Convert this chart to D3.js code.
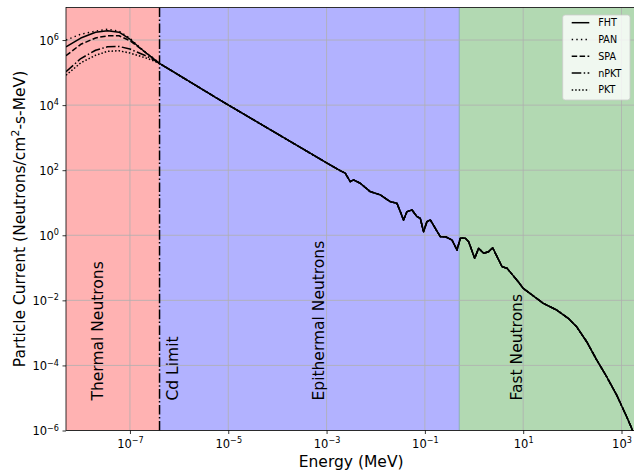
<!DOCTYPE html>
<html>
<head>
<meta charset="utf-8">
<script src="https://cdn.jsdelivr.net/npm/d3@7"></script>
<style>
  body { margin: 0; background: #fff; }
  svg { display: block; font-family: "DejaVu Sans", sans-serif; }
</style>
</head>
<body>
<svg id="chart" width="634" height="472"></svg>
<script>
// ---- data -------------------------------------------------------------
// Thermal peak (MeV) – the facilities differ here
const thermalEnergy = [5e-9, 1e-8, 2e-8, 3.5e-8, 6e-8, 1e-7, 1.5e-7, 2.2e-7, 3e-7];
const thermalFHT  = [6.2e5, 1.15e6, 1.73e6, 1.93e6, 1.74e6, 1.06e6, 6.2e5, 3.85e5, 2.7e5];
const thermalPAN  = [1.0e6, 1.51e6, 1.88e6, 2.15e6, 1.88e6, 1.14e6, 6.4e5, 3.95e5, 2.79e5];
const thermalSPA  = [3.3e5, 7.4e5, 1.16e6, 1.35e6, 1.35e6, 9.5e5, 6.0e5, 3.85e5, 2.7e5];
const thermalNPKT = [1.06e5, 2.7e5, 4.85e5, 6.2e5, 6.35e5, 5.3e5, 4.06e5, 3.18e5, 2.51e5];
const thermalPKT  = [8.3e4, 2.0e5, 3.4e5, 4.49e5, 4.69e5, 3.98e5, 3.29e5, 2.75e5, 2.31e5];

// Epithermal and fast part of the spectrum (MeV, neutrons/cm²-s-MeV)
const tailEnergy = [4.08e-7, 6.8e-6, 1.18e-3, 1.89e-3, 2.39e-3, 3.03e-3, 3.53e-3, 4.83e-3,
  7.72e-3, 1.24e-2, 1.97e-2, 2.7e-2, 3.16e-2, 3.68e-2, 4.32e-2, 5.46e-2, 6.9e-2, 8.05e-2,
  9.4e-2, 0.110, 0.129, 0.163, 0.206, 0.260, 0.356, 0.451, 0.526, 0.665, 0.777, 1.03, 1.24,
  1.57, 1.98, 2.39, 2.94, 3.72, 4.70, 5.9, 7.94, 10.0, 13.7, 25.6, 48.0, 82.6, 122, 196,
  313, 499, 798, 1274, 1610, 2000];
const tailCurrent = [1.87e5, 1.43e4, 145, 97.2, 80.9, 44.6, 50.3, 39.8,
  22.0, 17.4, 10.8, 9.66, 5.33, 2.96, 5.33, 6.0, 3.73, 3.33,
  1.29, 2.62, 2.96, 1.64, 0.906, 0.906, 0.716, 0.353, 0.809, 0.809, 0.636, 0.196, 0.398,
  0.279, 0.313, 0.415, 0.22, 0.108, 0.0966, 0.064, 0.0373, 0.0234, 0.0164, 8.1e-3, 5.04e-3, 2.8e-3, 1.55e-3, 5.35e-4,
  1.47e-4, 4.49e-5, 1.23e-5, 2.65e-6, 1.17e-6, 5e-7];

const seriesNames = ["FHT", "PAN", "SPA", "nPKT", "PKT"];
const thermalValues = [thermalFHT, thermalPAN, thermalSPA, thermalNPKT, thermalPKT];

// Region boundaries (MeV)
const cdLimit = 4e-7;
const fastLimit = 0.5;
const xLimits = [5e-9, 2e3];
const yLimits = [1e-6, 1e7];

const xTickValues = [1e-7, 1e-5, 1e-3, 1e-1, 1e1, 1e3];
const yTickValues = [1e-6, 1e-4, 1e-2, 1e0, 1e2, 1e4, 1e6];

// ---- styling per series ---------------------------------------------------
const seriesStyle = {
  FHT:  { dash: null,                width: 1.5 },
  PAN:  { dash: "1.4,3.2",           width: 1.4 },
  SPA:  { dash: "5.5,2.4",           width: 1.5 },
  nPKT: { dash: "9.6,2.4,1.5,2.4",   width: 1.5 },
  PKT:  { dash: "1.5,2.0",           width: 1.5 }
};

// ---- layout -------------------------------------------------------------
const plot = { left: 66, right: 636.3, top: 7.5, bottom: 430.5 };
const svg = d3.select("#chart");

const x = d3.scaleLog().domain(xLimits).range([plot.left, plot.right]);
const y = d3.scaleLog().domain(yLimits).range([plot.bottom, plot.top]);

svg.append("defs").append("clipPath").attr("id", "plotClip")
  .append("rect")
  .attr("x", plot.left).attr("y", plot.top)
  .attr("width", plot.right - plot.left).attr("height", plot.bottom - plot.top);

const area = svg.append("g").attr("clip-path", "url(#plotClip)");

// Shaded energy regions
const regions = [
  { from: xLimits[0], to: cdLimit, color: "#ff0000" },
  { from: cdLimit, to: fastLimit, color: "#0000ff" },
  { from: fastLimit, to: xLimits[1], color: "#008000" }
];
area.selectAll("rect.region").data(regions).join("rect")
  .attr("class", "region")
  .attr("x", d => x(d.from))
  .attr("y", plot.top)
  .attr("width", d => x(d.to) - x(d.from))
  .attr("height", plot.bottom - plot.top)
  .attr("fill", d => d.color)
  .attr("fill-opacity", 0.3);

// thin overlap seam between epithermal and fast shading
area.append("line")
  .attr("x1", x(fastLimit)).attr("x2", x(fastLimit))
  .attr("y1", plot.top).attr("y2", plot.bottom)
  .attr("stroke", "rgb(125,164,179)").attr("stroke-width", 0.8);

// Grid
const grid = area.append("g").attr("stroke", "#b0b0b0").attr("stroke-width", 0.8);
grid.selectAll("line.gx").data(xTickValues).join("line")
  .attr("x1", d => x(d)).attr("x2", d => x(d))
  .attr("y1", plot.top).attr("y2", plot.bottom);
grid.selectAll("line.gy").data(yTickValues).join("line")
  .attr("class", "gy")
  .attr("y1", d => y(d)).attr("y2", d => y(d))
  .attr("x1", plot.left).attr("x2", plot.right);

// Spectra
const series = seriesNames.map((name, i) => {
  const energy = thermalEnergy.concat(tailEnergy);
  const current = thermalValues[i].concat(tailCurrent);
  return { name, points: energy.map((e, k) => [e, current[k]]) };
});

const line = d3.line().x(d => x(d[0])).y(d => y(d[1]));

area.selectAll("path.spectrum").data(series).join("path")
  .attr("class", "spectrum")
  .attr("d", d => line(d.points))
  .attr("fill", "none")
  .attr("stroke", "#000")
  .attr("stroke-width", d => seriesStyle[d.name].width)
  .attr("stroke-dasharray", d => seriesStyle[d.name].dash)
  .attr("stroke-linejoin", "round");

// Cd cut-off marker
area.append("line")
  .attr("x1", x(cdLimit)).attr("x2", x(cdLimit))
  .attr("y1", plot.top).attr("y2", plot.bottom)
  .attr("stroke", "#000").attr("stroke-width", 1.5)
  .attr("stroke-dasharray", "9.6,2.4,1.5,2.4");

// Region labels (vertical)
const regionLabels = [
  { text: "Thermal Neutrons", x: 103 },
  { text: "Cd Limit", x: 177.5 },
  { text: "Epithermal Neutrons", x: 323.5 },
  { text: "Fast Neutrons", x: 522 }
];
svg.selectAll("text.region-label").data(regionLabels).join("text")
  .attr("class", "region-label")
  .attr("transform", d => `translate(${d.x},400.5) rotate(-90)`)
  .attr("font-size", 15.5)
  .attr("fill", "#000")
  .text(d => d.text);

// Frame
svg.append("rect")
  .attr("x", plot.left).attr("y", plot.top)
  .attr("width", plot.right - plot.left).attr("height", plot.bottom - plot.top)
  .attr("fill", "none").attr("stroke", "#000").attr("stroke-width", 0.8);

// Power-of-ten tick labels with superscript exponents
function powerLabel(sel) {
  sel.each(function(d) {
    const t = d3.select(this);
    const exp = Math.round(Math.log10(d));
    t.text(null);
    t.append("tspan").text("10");
    t.append("tspan")
      .attr("font-size", 8.1)
      .attr("dy", -4.6)
      .text(exp < 0 ? "\u2212" + (-exp) : String(exp));
  });
}

const xAxis = d3.axisBottom(x).tickValues(xTickValues).tickSize(3.5).tickSizeOuter(0);
const gx = svg.append("g").attr("transform", `translate(0,${plot.bottom})`).call(xAxis);
gx.select(".domain").remove();
gx.selectAll(".tick line").attr("stroke", "#000").attr("stroke-width", 0.8);
gx.selectAll(".tick text")
  .attr("font-family", "DejaVu Sans, sans-serif")
  .attr("font-size", 11.5).attr("fill", "#000")
  .attr("y", 17.5).attr("dy", null)
  .call(powerLabel);

const yAxis = d3.axisLeft(y).tickValues(yTickValues).tickSize(3.5).tickSizeOuter(0);
const gy = svg.append("g").attr("transform", `translate(${plot.left},0)`).call(yAxis);
gy.select(".domain").remove();
gy.selectAll(".tick line").attr("stroke", "#000").attr("stroke-width", 0.8);
gy.selectAll(".tick text")
  .attr("font-family", "DejaVu Sans, sans-serif")
  .attr("font-size", 11.5).attr("fill", "#000")
  .attr("x", -7).attr("dy", 4.2)
  .call(powerLabel);

// Axis titles
svg.append("text")
  .attr("x", (plot.left + plot.right) / 2).attr("y", 467)
  .attr("text-anchor", "middle").attr("font-size", 15.5)
  .text("Energy (MeV)");

const yTitle = svg.append("text")
  .attr("transform", `translate(24.5,${(plot.top + plot.bottom) / 2}) rotate(-90)`)
  .attr("text-anchor", "middle").attr("font-size", 15.5);
yTitle.append("tspan").text("Particle Current (Neutrons/cm");
yTitle.append("tspan").attr("font-size", 10.9).attr("dy", -6).text("2");
yTitle.append("tspan").attr("dy", 6).text("-s-MeV)");

// Legend
const legend = svg.append("g").attr("transform", "translate(562.7,15)");
legend.append("rect")
  .attr("width", 67.3).attr("height", 85).attr("rx", 2.5)
  .attr("fill", "#fff").attr("fill-opacity", 0.8)
  .attr("stroke", "#cccccc").attr("stroke-opacity", 0.8).attr("stroke-width", 1);
const entries = legend.selectAll("g.entry").data(seriesNames).join("g")
  .attr("class", "entry")
  .attr("transform", (d, i) => `translate(0,${7.7 + i * 16.8})`);
entries.append("line")
  .attr("x1", 9).attr("x2", 26.6).attr("y1", 0).attr("y2", 0)
  .attr("stroke", "#000")
  .attr("stroke-width", d => seriesStyle[d].width)
  .attr("stroke-dasharray", d => seriesStyle[d].dash);
entries.append("text")
  .attr("x", 35.5).attr("y", 3.5)
  .attr("font-size", 9.6).attr("fill", "#000")
  .text(d => d);
</script>
</body>
</html>
